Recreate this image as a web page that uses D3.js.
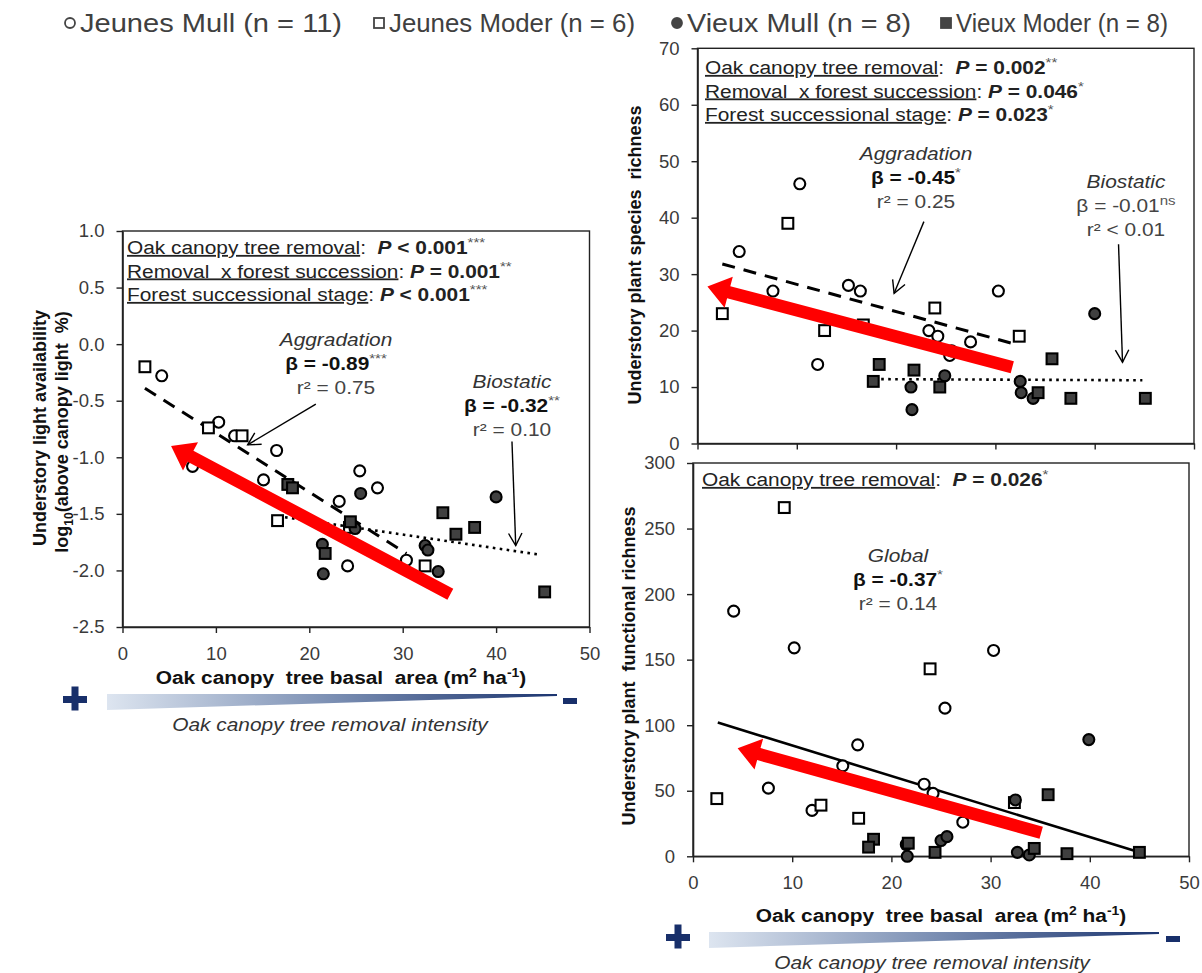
<!DOCTYPE html>
<html><head><meta charset="utf-8">
<script src="https://cdn.jsdelivr.net/npm/d3@7"></script>
<style>
body{margin:0;background:#fff;}
svg{display:block;font-family:"Liberation Sans",Arial,sans-serif;}
text{white-space:pre;}
</style></head><body>
<script>
// ================= DATA =================
const groupNames = ["Jeunes Mull (n = 11)", "Jeunes Moder (n = 6)", "Vieux Mull (n = 8)", "Vieux Moder (n = 8)"];
const xTicks = [0, 10, 20, 30, 40, 50];
const lightTicks = [-2.5, -2, -1.5, -1, -0.5, 0, 0.5, 1];
const speciesTicks = [0, 10, 20, 30, 40, 50, 60, 70];
const functionalTicks = [0, 50, 100, 150, 200, 250, 300];

// Panel A: understory light availability (log10 % of above-canopy light)
const lightJeunesMull = [[4.2,-0.28],[7.5,-1.08],[10.3,-0.69],[12.0,-0.81],[16.5,-0.94],[15.1,-1.20],[25.4,-1.12],[27.3,-1.27],[23.2,-1.39],[24.1,-1.96],[30.4,-1.91]];
const lightJeunesModer = [[2.4,-0.20],[9.2,-0.74],[12.8,-0.81],[16.6,-1.56],[24.3,-1.62],[32.4,-1.96]];
const lightVieuxMull = [[25.5,-1.32],[24.9,-1.63],[21.4,-1.77],[21.5,-2.03],[32.4,-1.78],[32.7,-1.82],[33.8,-2.01],[40.0,-1.35]];
const lightVieuxModer = [[17.7,-1.24],[18.2,-1.27],[24.4,-1.57],[21.7,-1.85],[34.3,-1.49],[35.7,-1.68],[37.7,-1.62],[45.2,-2.19]];
const lightAggradationFit = [[2.4,-0.39],[30.4,-1.85]];
const lightBiostaticFit = [[17.4,-1.53],[44.6,-1.86]];
const lightTrendArrow = [[35.1,-2.21],[5.2,-0.90]];
const lightAggradationPointer = [[20.7,-0.53],[13.4,-0.89]];
const lightBiostaticPointer = [[41.7,-0.86],[42.1,-1.78]];
const lightStats = [["Oak canopy tree removal", " < 0.001", "***"], ["Removal  x forest succession", " = 0.001", "**"], ["Forest successional stage", " < 0.001", "***"]];
const lightAggradation = ["Aggradation", "β = -0.89", "***", "r² = 0.75"];
const lightBiostatic = ["Biostatic", "β = -0.32", "**", "r² = 0.10"];

// Panel B: understory plant species richness
const speciesJeunesMull = [[4.2,34],[10.3,46],[7.6,27],[15.2,28],[16.4,27],[12.1,14],[23.3,20],[24.2,19],[27.5,18],[30.3,27],[25.4,15.6]];
const speciesJeunesModer = [[2.5,23],[9.1,39],[12.8,20],[16.7,21],[23.9,24],[32.4,19]];
const speciesVieuxMull = [[40.0,23],[21.5,10],[21.6,6],[24.9,12],[32.5,11],[32.6,9],[33.8,8],[25.6,16.4]];
const speciesVieuxModer = [[18.3,14],[17.7,11],[21.8,13],[24.4,10],[34.3,9],[35.7,15],[37.6,8],[45.1,8]];
const speciesAggradationFit = [[2.5,31.8],[32.4,17.4]];
const speciesBiostaticFit = [[18.5,11.4],[44.8,11.2]];
const speciesTrendArrow = [[31.7,13.5],[1.0,27.8]];
const speciesAggradationPointer = [[22.8,39.3],[19.8,26.6]];
const speciesBiostaticPointer = [[42.4,35.3],[42.8,14.4]];
const speciesStats = [["Oak canopy tree removal", " = 0.002", "**"], ["Removal  x forest succession", " = 0.046", "*"], ["Forest successional stage", " = 0.023", "*"]];
const speciesAggradation = ["Aggradation", "β = -0.45", "*", "r² = 0.25"];
const speciesBiostatic = ["Biostatic", "β = -0.01", "ns", "r² < 0.01"];

// Panel C: understory plant functional richness
const functionalJeunesMull = [[4.1,187],[10.2,159],[30.3,157],[25.4,113],[16.6,85],[15.1,69],[7.6,52],[12.0,35],[23.3,55],[24.2,48],[27.2,26]];
const functionalJeunesModer = [[2.4,44],[9.2,266],[12.9,39],[16.7,29],[23.9,143],[32.4,41]];
const functionalVieuxMull = [[39.9,89],[21.5,9],[21.6,0],[25.0,12],[25.6,15],[32.7,3],[33.9,1],[32.5,43]];
const functionalVieuxModer = [[18.2,13],[17.7,7],[21.7,10],[24.4,3],[34.4,6],[35.8,47],[37.7,2],[45.0,3]];
const functionalGlobalFit = [[2.5,102],[45.0,3]];
const functionalTrendArrow = [[35.1,18],[4.5,82.5]];
const functionalStats = [["Oak canopy tree removal", " = 0.026", "*"]];
const functionalGlobal = ["Global", "β = -0.37", "*", "r² = 0.14"];

// ================= DRAWING =================
const W = 1202, H = 973;
const SX = 1.16; // horizontal stretch of the original figure's lettering
const svg = d3.select("body").append("svg").attr("width", W).attr("height", H);
const NAVY = "#182f6a";
const TXT = "#3a3a3a";

function htext(parent, x, y) {
  return parent.append("g").attr("transform", `translate(${x},${y}) scale(${SX},1)`)
    .append("text").attr("x", 0).attr("y", 0);
}

function marker(g, type, x, y) {
  const r = 5.5, s = 10.8;
  const fill = (type === 0 || type === 1) ? "#fff" : "#404040";
  if (type === 0 || type === 2) {
    g.append("circle").attr("cx", x).attr("cy", y).attr("r", r)
      .attr("fill", fill).attr("stroke", "#000").attr("stroke-width", 2.1);
  } else {
    g.append("rect").attr("x", x - s/2).attr("y", y - s/2).attr("width", s).attr("height", s)
      .attr("fill", fill).attr("stroke", "#000").attr("stroke-width", 2.1);
  }
}

function fatArrow(p0, p1, w, hl, hw) {
  const dx = p1[0]-p0[0], dy = p1[1]-p0[1], L = Math.hypot(dx, dy);
  const ux = dx/L, uy = dy/L, nx = -uy, ny = ux;
  const b = [p1[0]-ux*hl, p1[1]-uy*hl];
  return [[p0[0]+nx*w/2, p0[1]+ny*w/2], [b[0]+nx*w/2, b[1]+ny*w/2], [b[0]+nx*hw/2, b[1]+ny*hw/2], p1,
          [b[0]-nx*hw/2, b[1]-ny*hw/2], [b[0]-nx*w/2, b[1]-ny*w/2], [p0[0]-nx*w/2, p0[1]-ny*w/2]];
}

function pointer(g, p0, p1) {
  g.append("line").attr("x1", p0[0]).attr("y1", p0[1]).attr("x2", p1[0]).attr("y2", p1[1])
    .attr("stroke", "#000").attr("stroke-width", 1.4);
  const a = Math.atan2(p0[1]-p1[1], p0[0]-p1[0]);
  const hl = 14, ha = 0.5;
  const pts = [[p1[0]+hl*Math.cos(a+ha), p1[1]+hl*Math.sin(a+ha)], p1, [p1[0]+hl*Math.cos(a-ha), p1[1]+hl*Math.sin(a-ha)]];
  g.append("path").attr("d", d3.line()(pts)).attr("fill", "none").attr("stroke", "#000").attr("stroke-width", 1.4);
}

function statBlock(g, cx, y, arr, boldBeta) {
  htext(g, cx, y).attr("text-anchor", "middle").attr("font-size", 18)
    .attr("font-style", "italic").attr("fill", "#333").text(arr[0]);
  const t = htext(g, cx, y + 24).attr("text-anchor", "middle").attr("font-size", 18).attr("fill", boldBeta ? "#111" : "#444");
  t.append("tspan").attr("font-weight", boldBeta ? "bold" : "normal").text(arr[1]);
  t.append("tspan").attr("dy", -7).attr("font-size", 13).attr("fill", "#555").text(arr[2]);
  htext(g, cx, y + 48).attr("text-anchor", "middle").attr("font-size", 18)
    .attr("fill", "#444").text(arr[3]);
}

function pLines(g, x, y0, stats) {
  stats.forEach((s, i) => {
    const t = htext(g, x, y0 + i*23.5).attr("font-size", 18).attr("fill", "#222");
    t.append("tspan").style("text-decoration", "underline").text(s[0]);
    t.append("tspan").text(i === 0 ? ":  " : ": ");
    t.append("tspan").attr("font-weight", "bold").attr("font-style", "italic").text("P");
    t.append("tspan").attr("font-weight", "bold").text(s[1]);
    t.append("tspan").attr("dy", -7).attr("font-size", 13).attr("fill", "#555").text(s[2]);
  });
}

function panel(cfg) {
  const x = d3.scaleLinear().domain([0, 50]).range([cfg.left, cfg.right]);
  const y = d3.scaleLinear().domain(cfg.yDomain).range([cfg.bottom, cfg.top]);
  const g = svg.append("g");
  const P = p => [x(p[0]), y(p[1])];

  g.append("rect").attr("x", cfg.left).attr("y", cfg.top).attr("width", cfg.right - cfg.left)
    .attr("height", cfg.bottom - cfg.top).attr("fill", "none").attr("stroke", "#222").attr("stroke-width", 1.4);

  const xa = d3.axisBottom(x).tickValues(xTicks).tickSize(6).tickSizeOuter(0).tickPadding(14)
    .tickFormat(cfg.xLabels ? d3.format("d") : () => "");
  const gx = g.append("g").attr("transform", `translate(0,${cfg.bottom})`).call(xa);
  const ya = d3.axisLeft(y).tickValues(cfg.yTicks).tickSize(6).tickSizeOuter(0).tickPadding(12).tickFormat(cfg.fmt);
  const gy = g.append("g").attr("transform", `translate(${cfg.left},0)`).call(ya);
  [gx, gy].forEach(a => {
    a.select(".domain").attr("stroke", "#222").attr("stroke-width", 1.6);
    a.selectAll(".tick line").attr("stroke", "#222").attr("stroke-width", 1.4);
    a.selectAll(".tick text").attr("font-size", 18.5).attr("fill", TXT).attr("font-family", '"Liberation Sans",Arial,sans-serif');
  });

  cfg.fits.forEach(f => {
    g.append("line").attr("x1", x(f.d[0][0])).attr("y1", y(f.d[0][1])).attr("x2", x(f.d[1][0])).attr("y2", y(f.d[1][1]))
      .attr("stroke", "#000").attr("stroke-width", f.w).attr("stroke-dasharray", f.dash);
  });

  cfg.series.forEach((arr, k) => arr.forEach(p => marker(g, k, x(p[0]), y(p[1]))));

  g.append("path").attr("d", d3.line()(fatArrow(P(cfg.arrow[0]), P(cfg.arrow[1]), 12.5, 22, 32)) + "Z")
    .attr("fill", "#ff0000");

  cfg.pointers.forEach(pp => pointer(g, P(pp[0]), P(pp[1])));
  return { g, x, y };
}

// ---- Panel A ----
const A = panel({
  left: 122.5, right: 589.5, top: 231, bottom: 627, yDomain: [-2.5, 1], yTicks: lightTicks,
  fmt: d => d.toFixed(1), xLabels: true,
  series: [lightJeunesMull, lightJeunesModer, lightVieuxMull, lightVieuxModer],
  fits: [{ d: lightAggradationFit, w: 3, dash: "13,9" }, { d: lightBiostaticFit, w: 2.6, dash: "2.6,4.4" }],
  arrow: lightTrendArrow, pointers: [lightAggradationPointer, lightBiostaticPointer]
});
pLines(A.g, 127, 254, lightStats);
statBlock(A.g, 336, 346, lightAggradation, true);
statBlock(A.g, 512, 388, lightBiostatic, true);

// ---- Panel B ----
const B = panel({
  left: 697.5, right: 1194, top: 48.3, bottom: 443.5, yDomain: [0, 70], yTicks: speciesTicks,
  fmt: d3.format("d"), xLabels: false,
  series: [speciesJeunesMull, speciesJeunesModer, speciesVieuxMull, speciesVieuxModer],
  fits: [{ d: speciesAggradationFit, w: 3, dash: "13,9" }, { d: speciesBiostaticFit, w: 2.6, dash: "2.6,4.4" }],
  arrow: speciesTrendArrow, pointers: [speciesAggradationPointer, speciesBiostaticPointer]
});
pLines(B.g, 705, 74, speciesStats);
statBlock(B.g, 916, 160, speciesAggradation, true);
statBlock(B.g, 1126, 188, speciesBiostatic, false);

// ---- Panel C ----
const C = panel({
  left: 693, right: 1189, top: 463, bottom: 856.3, yDomain: [0, 300], yTicks: functionalTicks,
  fmt: d3.format("d"), xLabels: true,
  series: [functionalJeunesMull, functionalJeunesModer, functionalVieuxMull, functionalVieuxModer],
  fits: [{ d: functionalGlobalFit, w: 2.6, dash: null }],
  arrow: functionalTrendArrow, pointers: []
});
pLines(C.g, 702, 486, functionalStats);
statBlock(C.g, 898, 562, functionalGlobal, true);

// ---- Axis titles ----
function xTitle(cx, y) {
  const t = htext(svg, cx, y).attr("text-anchor", "middle")
    .attr("font-size", 18).attr("font-weight", "bold").attr("fill", "#111");
  t.append("tspan").text("Oak canopy  tree basal  area (m");
  t.append("tspan").attr("dy", -7).attr("font-size", 12).text("2");
  t.append("tspan").attr("dy", 7).text(" ha");
  t.append("tspan").attr("dy", -7).attr("font-size", 12).text("-1");
  t.append("tspan").attr("dy", 7).text(")");
}
xTitle(341, 684);
xTitle(941, 922);

function yTitle(x, cy, build) {
  const t = svg.append("text").attr("transform", `translate(${x},${cy}) rotate(-90)`).attr("text-anchor", "middle")
    .attr("font-size", 18).attr("font-weight", "bold").attr("fill", "#111");
  build(t);
}
yTitle(46, 428, t => t.text("Understory light availability"));
yTitle(68, 432, t => {
  t.append("tspan").text("log");
  t.append("tspan").attr("dy", 5).attr("font-size", 12).text("10");
  t.append("tspan").attr("dy", -5).text("(above canopy light  %)");
});
yTitle(641, 255, t => t.text("Understory plant species  richness"));
yTitle(635, 666, t => t.text("Understory plant  functional richness"));

// ---- Removal intensity gradient ----
const defs = svg.append("defs");
const grad = defs.append("linearGradient").attr("id", "intensity").attr("x1", "0").attr("x2", "1").attr("y1", "0").attr("y2", "0");
grad.append("stop").attr("offset", "0").attr("stop-color", "#dde5f0");
grad.append("stop").attr("offset", "0.5").attr("stop-color", "#7b8fb3");
grad.append("stop").attr("offset", "1").attr("stop-color", "#1c3570");

function intensity(x0, x1, yTop, plusX, minusX, textY) {
  svg.append("path").attr("d", d3.line()([[x0, yTop], [x1, yTop], [x1, yTop + 2], [x0, yTop + 16]]) + "Z")
    .attr("fill", "url(#intensity)");
  svg.append("rect").attr("x", plusX - 12).attr("y", yTop + 2).attr("width", 24).attr("height", 7).attr("fill", NAVY);
  svg.append("rect").attr("x", plusX - 3.5).attr("y", yTop - 7.5).attr("width", 7).attr("height", 24).attr("fill", NAVY);
  svg.append("rect").attr("x", minusX - 7).attr("y", yTop + 4).attr("width", 14).attr("height", 6).attr("fill", NAVY);
  htext(svg, (x0 + x1) / 2 - 2, textY).attr("text-anchor", "middle")
    .attr("font-size", 18).attr("font-style", "italic").attr("fill", "#333").text("Oak canopy tree removal intensity");
}
intensity(107, 557, 694, 75, 570, 731);
intensity(709, 1159, 932, 678, 1173, 969);

// ---- Legend ----
const legendMarkerX = [70, 379, 677, 946];
const legendWidths = [262, 246, 224, 212];
groupNames.forEach((name, k) => {
  const mx = legendMarkerX[k], my = 23;
  const lg = svg.append("g");
  if (k === 0 || k === 2) {
    lg.append("circle").attr("cx", mx).attr("cy", my).attr("r", 5).attr("fill", k === 0 ? "#fff" : "#444")
      .attr("stroke", "#444").attr("stroke-width", 1.8);
  } else {
    lg.append("rect").attr("x", mx - 5).attr("y", my - 5).attr("width", 10).attr("height", 10)
      .attr("fill", k === 1 ? "#fff" : "#444").attr("stroke", "#444").attr("stroke-width", 1.8);
  }
  lg.append("text").attr("x", mx + 10).attr("y", my + 8.5).attr("font-size", 25)
    .attr("font-family", '"Liberation Sans Narrow","Arial Narrow",sans-serif').attr("fill", "#404040")
    .attr("textLength", legendWidths[k]).attr("lengthAdjust", "spacingAndGlyphs").text(name);
});
</script>
</body></html>
